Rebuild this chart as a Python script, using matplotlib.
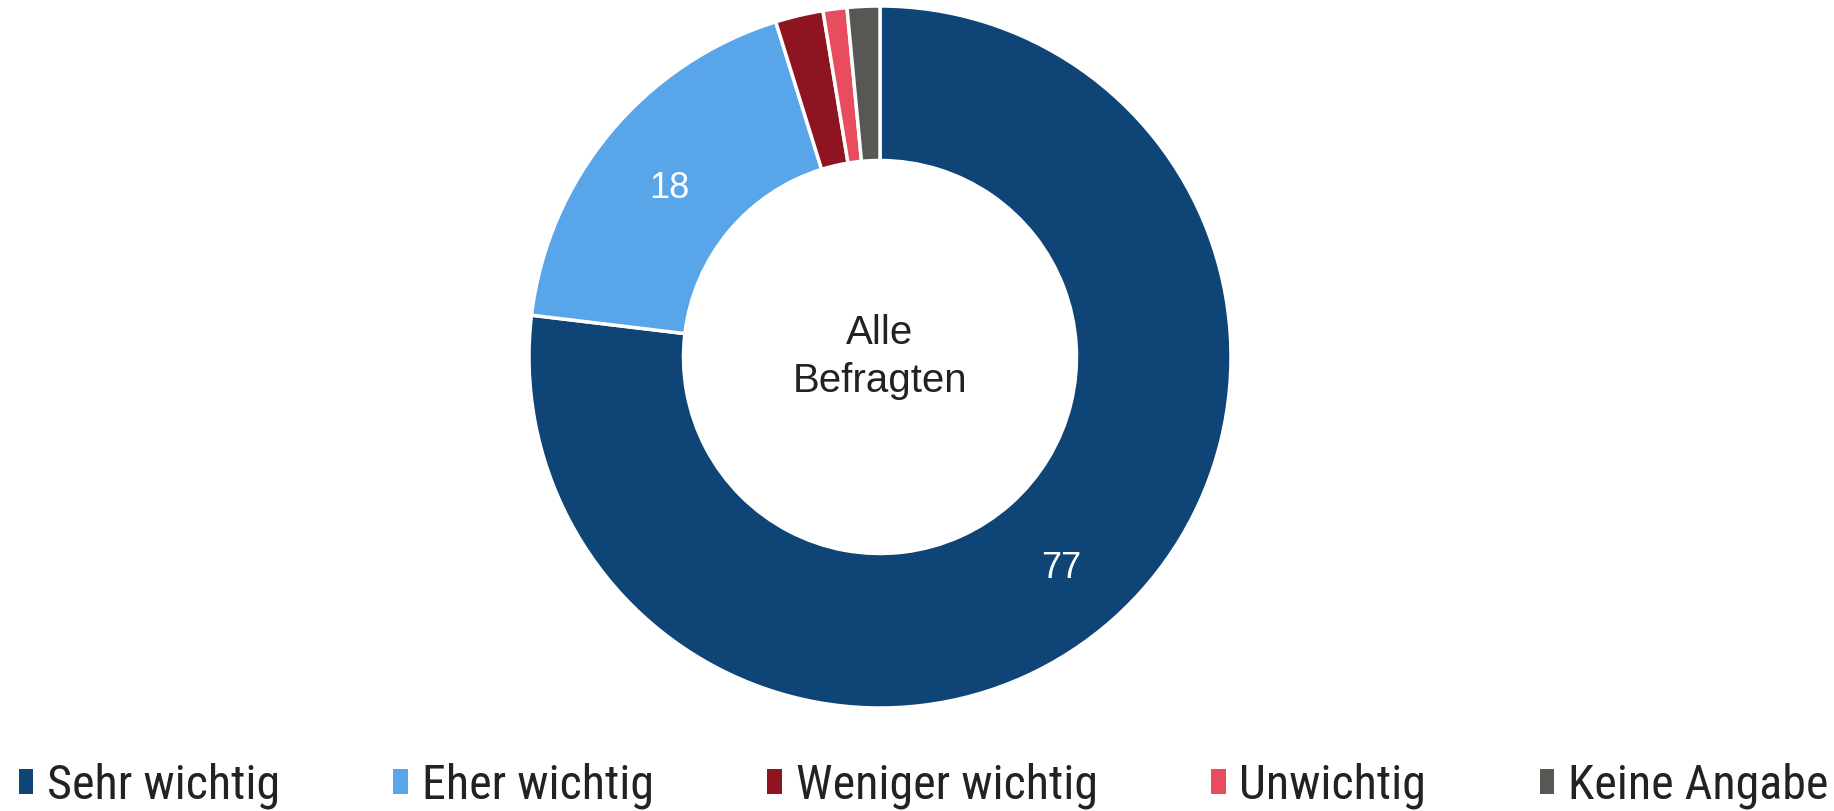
import matplotlib
matplotlib.use("Agg")
import matplotlib.pyplot as plt
from matplotlib import font_manager
from matplotlib.patches import Rectangle
import numpy as np

categories = ["Sehr wichtig", "Eher wichtig", "Weniger wichtig", "Unwichtig", "Keine Angabe"]
values = [76.9, 18.3, 2.2, 1.1, 1.5]
labels_shown = ["77", "18", "", "", ""]
colors = ["#0F4476", "#58A6E9", "#8E1422", "#E84D5F", "#575853"]
center_text = "Alle\nBefragten"

names = {f.name for f in font_manager.fontManager.ttflist}


def pick(prefs, default="DejaVu Sans"):
    for p in prefs:
        if p in names:
            return p
    return default


main_font = pick(["Liberation Sans", "Arimo"])
legend_font = pick(["Liberation Sans Narrow", "Nimbus Sans Narrow", "Arial Narrow",
                    "Roboto Condensed", "Archivo Narrow"], main_font)

W, H = 1834, 811
dpi = 100
fig = plt.figure(figsize=(W / dpi, H / dpi), dpi=dpi)
cx, cy, R = 880, 357, 351
ax = fig.add_axes([(cx - R) / W, (H - cy - R) / H, 2 * R / W, 2 * R / H])

inner = 196.5 / R
wedges, texts = ax.pie(values, colors=colors, startangle=90, counterclock=False,
                       radius=1.0, wedgeprops=dict(width=1 - inner, edgecolor="white", linewidth=2.5))
ax.set_xlim(-1, 1)
ax.set_ylim(-1, 1)
ax.set_aspect("equal")
ax.axis("off")

mid = (1 + inner) / 2
for w, lab in zip(wedges, labels_shown):
    if not lab:
        continue
    ang = np.deg2rad((w.theta1 + w.theta2) / 2)
    ax.text(mid * np.cos(ang), mid * np.sin(ang) - 0.02, lab, ha="center", va="center",
            color="white", fontsize=26, family=main_font)

ax.text(0, 0, center_text, ha="center", va="center", fontsize=29, color="#222222",
        family=main_font, linespacing=1.3)

handles = [Rectangle((0, 0), 1, 1, facecolor=c, edgecolor="none") for c in colors]
fs = 34.6
leg = fig.legend(handles, categories, loc="center", bbox_to_anchor=(0.5035, 1 - 786 / H),
                 ncol=5, frameon=False, prop={"family": legend_font, "size": fs},
                 handlelength=0.31, handleheight=0.4, handletextpad=0.28,
                 columnspacing=2.36, borderaxespad=0, borderpad=0)
for t in leg.get_texts():
    t.set_color("#222222")

fig.savefig("out.png", dpi=dpi, facecolor="white")
